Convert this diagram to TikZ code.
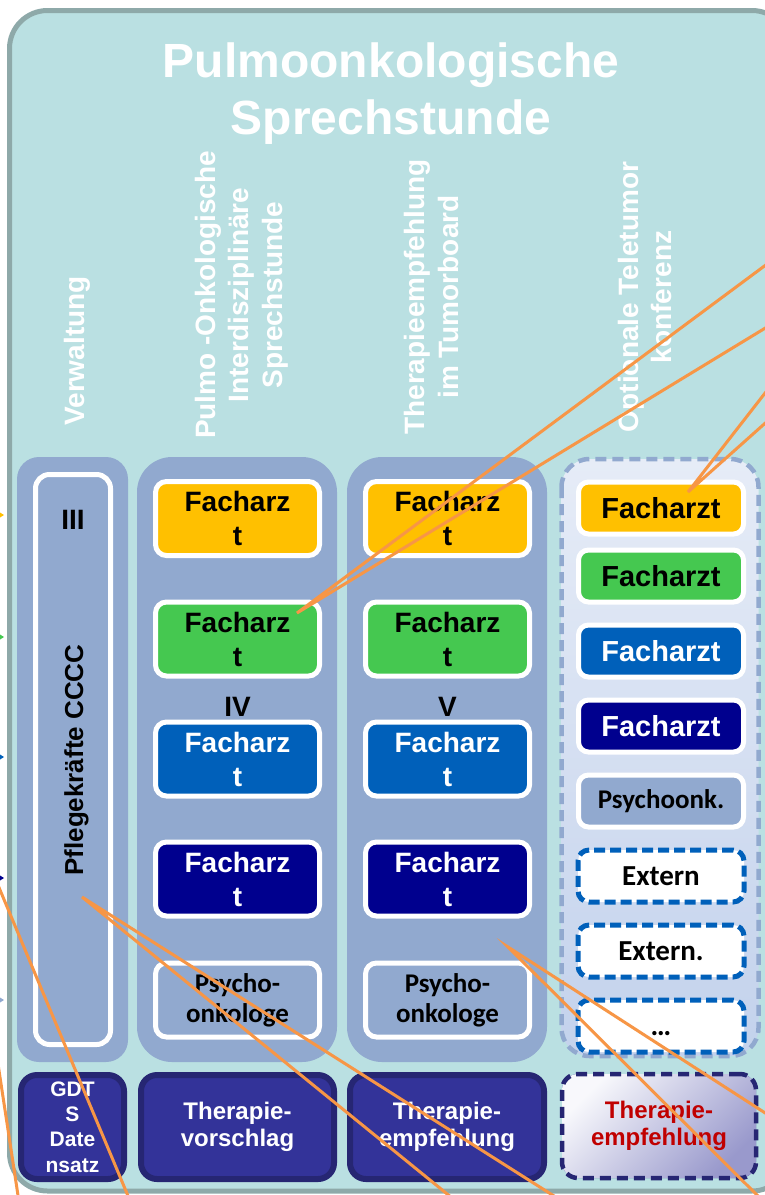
\documentclass[tikz,border=0pt]{standalone}
\usepackage{fontspec}
\setmainfont{Liberation Sans}
\newfontfamily\calfont{Carlito}
\newcommand\fsz[2]{\fontsize{#1}{#2}\selectfont\bfseries}
\definecolor{bgc}{HTML}{BAE0E2}
\definecolor{rimc}{HTML}{8EA9A9}
\definecolor{panelc}{HTML}{91A9CF}
\definecolor{cyel}{HTML}{FFC000}
\definecolor{cgrn}{HTML}{45C850}
\definecolor{cblu}{HTML}{0060BA}
\definecolor{cnav}{HTML}{00008E}
\definecolor{botf}{HTML}{333399}
\definecolor{botd}{HTML}{262673}
\definecolor{cred}{HTML}{C00000}
\definecolor{corg}{HTML}{F79646}
\definecolor{lavtop}{HTML}{E6ECF7}
\definecolor{lavbot}{HTML}{C3D2EC}
\begin{document}
\begin{tikzpicture}[x=1pt,y=-1pt,
  every node/.style={inner sep=0pt,outer sep=0pt},
  wbox/.style={draw=white,line width=5pt,rounded corners=11pt,minimum width=164pt,minimum height=74pt,align=center,font=\fsz{28}{34}},
  psybox/.style={wbox,fill=panelc,font=\calfont\fsz{27}{30}},
  cbox/.style={draw=white,line width=5pt,rounded corners=10pt,minimum width=165pt,minimum height=52pt,align=center,font=\fsz{29}{30}},
  extbox/.style={draw=cblu,fill=white,line width=5pt,dash pattern=on 11pt off 5pt,rounded corners=11pt,minimum width=166pt,minimum height=52pt,align=center,font=\calfont\fsz{29}{30}},
  botbox/.style={draw=botd,fill=botf,line width=6pt,rounded corners=16pt,minimum height=104pt,align=center,text=white,font=\fsz{24}{26.5}},
  hdr/.style={rotate=90,align=center,text=white,font=\fsz{28}{33.5}},
  leader/.style={draw=corg,line width=3pt}]
\useasboundingbox (0,0) rectangle (765,1195);
\clip (0,0) rectangle (765,1195);
% outer frame
\draw[fill=bgc,draw=rimc,line width=5pt,rounded corners=38pt] (9.5,10.5) rectangle (790,1191);
% left arrow tips
\fill[cyel] (-4,510) -- (4,515) -- (-4,520) -- cycle;
\fill[cgrn] (-4,632) -- (4,637) -- (-4,642) -- cycle;
\fill[cblu] (-4,752) -- (4,757) -- (-4,762) -- cycle;
\fill[cnav] (-4,873) -- (4,878) -- (-4,883) -- cycle;
\fill[panelc] (-4,995) -- (4,1000) -- (-4,1005) -- cycle;
% title
\node[align=center,text=white,font=\fsz{48}{57}] (title) at (391,93.3) {Pulmoonkologische\\Sprechstunde};
% column headers
\node[hdr] (h1) at (77.7,351) {Verwaltung};
\node[hdr] (h2) at (241.4,295) {Pulmo -Onkologische\\Interdisziplinäre\\Sprechstunde};
\node[hdr] (h3) at (431.6,297) {Therapieempfehlung\\im Tumorboard};
\node[hdr] (h4) at (645,297) {Optionale Teletumor\\konferenz};
% panels
\fill[panelc,rounded corners=22pt] (17,457) rectangle (128,1062);
\draw[draw=white,line width=5pt,rounded corners=14pt] (35.5,474.5) rectangle (110.5,1044.5);
\fill[panelc,rounded corners=35pt] (137,457) rectangle (337,1062);
\fill[panelc,rounded corners=35pt] (347,457) rectangle (547,1062);
\draw[top color=lavtop,bottom color=lavbot,draw=panelc,line width=4.5pt,dash pattern=on 11pt off 6pt,rounded corners=28pt] (561.5,459) rectangle (758.5,1056);
% column 1
\node[font=\fsz{28}{34}] (III) at (73,520) {III};
\node[rotate=90,font=\fsz{26}{30}] (pflege) at (76.4,760) {Pflegekräfte CCCC};
% column 2
\node[wbox,fill=cyel] (a1) at (237.5,518.5) {Facharz\\t};
\node[wbox,fill=cgrn] (a2) at (237.5,639) {Facharz\\t};
\node[wbox,fill=cblu,text=white] (a3) at (237.5,759) {Facharz\\t};
\node[wbox,fill=cnav,text=white] (a4) at (237.5,879) {Facharz\\t};
\node[psybox] (a5) at (237.5,1000) {Psycho-\\onkologe};
\node[font=\fsz{28}{34}] (IV) at (237.5,707) {IV};
% column 3
\node[wbox,fill=cyel] (b1) at (447.5,518.5) {Facharz\\t};
\node[wbox,fill=cgrn] (b2) at (447.5,639) {Facharz\\t};
\node[wbox,fill=cblu,text=white] (b3) at (447.5,759) {Facharz\\t};
\node[wbox,fill=cnav,text=white] (b4) at (447.5,879) {Facharz\\t};
\node[psybox] (b5) at (447.5,1000) {Psycho-\\onkologe};
\node[font=\fsz{28}{34}] (V) at (447.5,707) {V};
% column 4
\node[cbox,fill=cyel] (c1) at (661,508) {Facharzt};
\node[cbox,fill=cgrn] (c2) at (661,576) {Facharzt};
\node[cbox,fill=cblu,text=white] (c3) at (661,651) {Facharzt};
\node[cbox,fill=cnav,text=white] (c4) at (661,726) {Facharzt};
\node[cbox,fill=panelc,font=\calfont\fsz{27}{30}] (c5) at (661,801) {Psychoonk.};
\node[extbox] (c6) at (661,876) {Extern};
\node[extbox] (c7) at (661,951) {Extern.};
\node[extbox] (c8) at (661,1026) {\vphantom{E}…};
% bottom row
\node[botbox,minimum width=103pt,font=\fsz{21}{25.3}] (d1) at (72.5,1127) {GDT\\S\\Date\\nsatz};
\node[botbox,minimum width=193pt] (d2) at (237.5,1127) {Therapie-\\vorschlag};
\node[botbox,minimum width=194pt] (d3) at (447,1127) {Therapie-\\empfehlung};
\node[botbox,minimum width=194pt,draw=botd,line width=4.5pt,dash pattern=on 11pt off 6pt,left color=lavtop!75!botf!10,right color=botf!50!white,shading angle=45,text=cred] (d4) at (659,1126) {Therapie-\\empfehlung};
% orange leader lines
\coordinate (e1) at (297,613);
\coordinate (e2) at (688,492);
\coordinate (e3) at (82,897);
\coordinate (e4) at (508,947);
\coordinate (oA) at (790,247);
\coordinate (oB) at (790,313);
\coordinate (oC) at (790,361);
\coordinate (oD) at (790,401);
\coordinate (oE) at (584,1215);
\coordinate (oF) at (473,1215);
\coordinate (oG) at (790,1129);
\coordinate (oH) at (777,1215);
\coordinate (oI) at (-10,866);
\coordinate (oI2) at (136,1215);
\coordinate (oJ) at (-2,1064);
\coordinate (oJ2) at (21,1215);
\draw[leader] (oA) -- (e1) -- (oB);
\draw[leader] (oC) -- (e2) -- (oD);
\draw[leader] (oE) -- (e3) -- (oF);
\draw[leader] (oG) -- (e4) -- (oH);
\draw[leader] (oI) -- (oI2);
\draw[leader] (oJ) -- (oJ2);
\end{tikzpicture}
\end{document}
